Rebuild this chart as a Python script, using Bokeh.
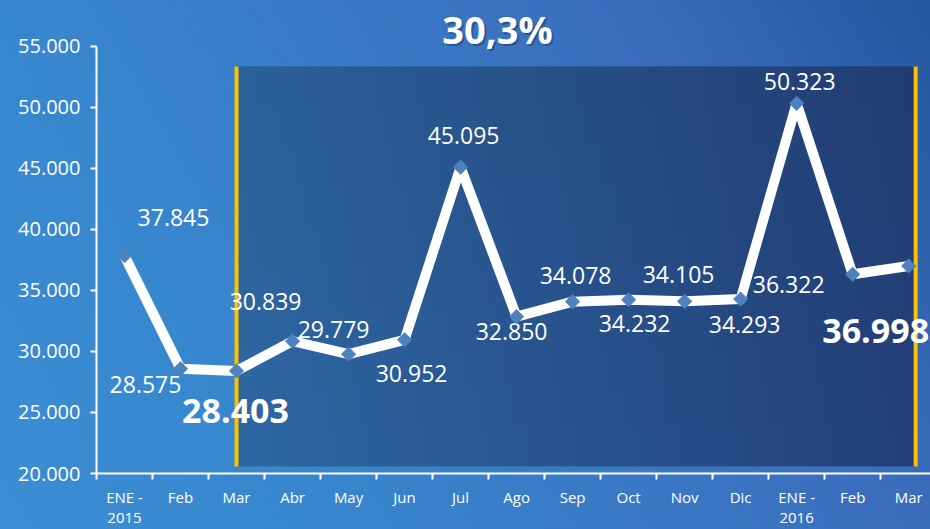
import numpy as np
from bokeh.plotting import figure
from bokeh.models import (ColumnDataSource, Range1d, LinearAxis, FixedTicker, Label,
                          GlobalInlineStyleSheet)
from bokeh.core.properties import value
from bokeh.embed import file_html
from bokeh.resources import INLINE

# ---------------- data ----------------
months = ["ENE -\n2015", "Feb", "Mar", "Abr", "May", "Jun", "Jul", "Ago",
          "Sep", "Oct", "Nov", "Dic", "ENE -\n2016", "Feb", "Mar"]
visits = [37845, 28575, 28403, 30839, 29779, 30952, 45095, 32850,
          34078, 34232, 34105, 34293, 50323, 36322, 36998]
y_ticks = [20000, 25000, 30000, 35000, 40000, 45000, 50000, 55000]
growth_text = "30,3%"
period_start = 2      # index of "Mar" 2015
period_end = 14       # index of "Mar" 2016

# label placement (pixels, screen; +y is down)
label_dx = [49, -35, -1, -27, -15, 7, 3, -5, 3, 6, -6, 4, 3, -64, -33]
label_dy = [-38, 16, 40, -40, -25, 34, -32, 15, -26, 24, -27, 25, -22, 10, 65]

FONT = "Open Sans"

def fmt(v):
    return f"{v:,}".replace(",", ".")

xs = list(range(len(months)))

W, H = 930, 529
BORDER_L, BORDER_B = 96, 54

p = figure(width=W, height=H,
           x_range=Range1d(-0.5, 14.39), y_range=Range1d(20000, 58750),
           output_backend="svg", toolbar_location=None,
           x_axis_type=None, y_axis_type=None,
           min_border_left=BORDER_L, min_border_right=0, min_border_top=0,
           min_border_bottom=BORDER_B)
p.border_fill_alpha = 0
p.background_fill_alpha = 0
p.outline_line_color = None
p.styles = {"background": "linear-gradient(60deg, #3c8dd3 0%, #3787cf 25%, #3b6cbc 76%, #23579f 100%)"}
p.stylesheets = [GlobalInlineStyleSheet(css="body { background: #3884cd; }")]

# axes
xaxis = LinearAxis(
    ticker=FixedTicker(ticks=xs, minor_ticks=[i - 0.5 for i in range(len(months) + 1)]),
    major_label_overrides={i: m for i, m in enumerate(months)})
xaxis.axis_line_color = "white"
xaxis.axis_line_width = 2
xaxis.major_tick_line_color = None
xaxis.major_tick_out = 0
xaxis.major_tick_in = 0
xaxis.minor_tick_line_color = "white"
xaxis.minor_tick_line_width = 2
xaxis.minor_tick_out = 6
xaxis.minor_tick_in = 0
xaxis.major_label_text_color = "white"
xaxis.major_label_text_font = FONT
xaxis.major_label_text_font_size = "15px"
xaxis.major_label_text_line_height = 1.0
xaxis.major_label_standoff = 7
p.add_layout(xaxis, "below")

yaxis = LinearAxis(ticker=FixedTicker(ticks=y_ticks), bounds=(y_ticks[0], y_ticks[-1]),
                   major_label_overrides={t: fmt(t) for t in y_ticks})
yaxis.axis_line_color = "white"
yaxis.axis_line_width = 2
yaxis.major_tick_line_color = "white"
yaxis.major_tick_line_width = 2
yaxis.major_tick_out = 6
yaxis.major_tick_in = 0
yaxis.minor_tick_line_color = None
yaxis.major_label_text_color = "white"
yaxis.major_label_text_font = FONT
yaxis.major_label_text_font_size = "20px"
yaxis.major_label_standoff = 10
p.add_layout(yaxis, "left")

# highlighted period box (gradient)
box_bottom, box_top = 20580, 53350
box_left, box_right = period_start, period_end + 0.125
ncol, nrow = 200, 10
t = np.linspace(0, 1, ncol)[None, :]
v = np.linspace(0, 1, nrow)[:, None]
c_left = np.array([46, 104, 164])
c_right = np.array([36, 64, 122])
img = np.zeros((nrow, ncol), dtype=np.uint32)
view = img.view(dtype=np.uint8).reshape((nrow, ncol, 4))
for k in range(3):
    view[:, :, k] = (c_left[k] * (1 - t) + c_right[k] * t) * (1.0 - 0.06 * v)
view[:, :, 3] = 255
p.image_rgba(image=[img], x=box_left, y=box_bottom, dw=box_right - box_left,
             dh=box_top - box_bottom)
p.segment(x0=[box_left, box_right], y0=[box_bottom, box_bottom],
          x1=[box_left, box_right], y1=[box_top, box_top],
          line_color="#ffc000", line_width=4)

# series line
p.line(xs, visits, line_color="white", line_width=10, line_join="round")

bold_idx = [period_start, period_end]
norm_idx = [i for i in xs if i not in bold_idx]

def src(idx):
    return ColumnDataSource(dict(
        x=[xs[i] for i in idx], y=[visits[i] for i in idx],
        t=[fmt(visits[i]) for i in idx],
        dx=[label_dx[i] for i in idx], dy=[label_dy[i] for i in idx]))

p.text(x="x", y="y", text="t", x_offset="dx", y_offset="dy", source=src(norm_idx),
       text_color="white", text_font=value(FONT), text_font_size="23px",
       text_align="center", text_baseline="middle")
p.text(x="x", y="y", text="t", x_offset="dx", y_offset="dy", source=src(bold_idx),
       text_color="white", text_font=value(FONT), text_font_size="34px",
       text_font_style="bold", text_align="center", text_baseline="middle")

# point markers (drawn last)
p.scatter(xs, visits, marker="square", angle=np.pi / 4, size=10,
          fill_color="#4f81bd", line_color="#4f81bd", line_width=1)

# title (screen units, relative to the plot frame)
frame_h = H - BORDER_B
tx, ty = 497 - BORDER_L, frame_h - 30
shadow = Label(x=tx + 2, y=ty - 2, x_units="screen", y_units="screen", text=growth_text,
               text_align="center", text_baseline="middle", text_font=FONT,
               text_font_size="38px", text_font_style="bold",
               text_color="#12305e", text_alpha=0.45)
title = Label(x=tx, y=ty, x_units="screen", y_units="screen", text=growth_text,
              text_align="center", text_baseline="middle", text_font=FONT,
              text_font_size="38px", text_font_style="bold", text_color="white")
p.add_layout(shadow)
p.add_layout(title)

open("out.html", "w").write(file_html(p, INLINE))
